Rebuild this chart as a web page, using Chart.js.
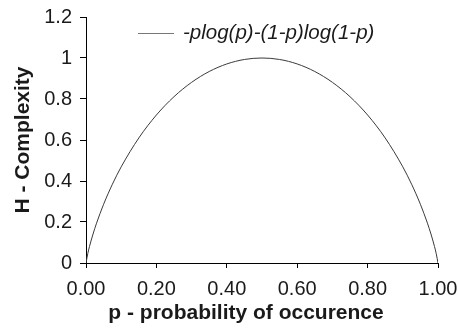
<!DOCTYPE html>
<html>
<head>
<meta charset="utf-8">
<script src="https://cdn.jsdelivr.net/npm/chart.js@4"></script>
<style>
html,body{margin:0;padding:0;background:#fff;}
#wrap{width:458px;height:328px;position:relative;}
</style>
</head>
<body>
<div id="wrap"><canvas id="c" width="458" height="328"></canvas></div>
<script>
const seriesLabel = "-plog(p)-(1-p)log(1-p)";
const xTitle = "p - probability of occurence";
const yTitle = "H - Complexity";
const pValues = [0, 0.005, 0.01, 0.02, 0.03, 0.05, 0.075, 0.10, 0.15, 0.20, 0.25, 0.30, 0.35, 0.40, 0.45, 0.50,
                 0.55, 0.60, 0.65, 0.70, 0.75, 0.80, 0.85, 0.90, 0.925, 0.95, 0.97, 0.98, 0.99, 0.995, 1.0];
const hValues = [0, 0.0454, 0.0808, 0.1414, 0.1944, 0.2864, 0.3843, 0.4690, 0.6098, 0.7219, 0.8113, 0.8813, 0.9341, 0.9710, 0.9928, 1.0,
                 0.9928, 0.9710, 0.9341, 0.8813, 0.8113, 0.7219, 0.6098, 0.4690, 0.3843, 0.2864, 0.1944, 0.1414, 0.0808, 0.0454, 0];
const xTicks = [0, 0.2, 0.4, 0.6, 0.8, 1.0];
const yTicks = [0, 0.2, 0.4, 0.6, 0.8, 1.0, 1.2];

const FONT = "'Liberation Sans', Arial, Helvetica, sans-serif";
const TXT = '#1a1a1a';

const points = pValues.map((p, i) => ({x: p, y: hValues[i]}));

const decorPlugin = {
  id: 'decor',
  afterDraw(chart) {
    const ctx = chart.ctx;
    const ca = chart.chartArea;
    ctx.save();
    // legend
    ctx.strokeStyle = '#777';
    ctx.lineWidth = 1;
    ctx.beginPath();
    ctx.moveTo(138, 33.5);
    ctx.lineTo(174, 33.5);
    ctx.stroke();
    ctx.fillStyle = TXT;
    ctx.font = 'italic 20.5px ' + FONT;
    ctx.textAlign = 'left';
    ctx.textBaseline = 'middle';
    ctx.fillText(chart.data.datasets[0].label, 183, 33);
    // x title
    ctx.font = 'bold 21px ' + FONT;
    ctx.textAlign = 'center';
    ctx.textBaseline = 'alphabetic';
    ctx.fillText(xTitle, 246, 319);
    // y title
    ctx.translate(29, (ca.top + ca.bottom) / 2);
    ctx.rotate(-Math.PI / 2);
    ctx.textBaseline = 'alphabetic';
    ctx.fillText(yTitle, 0, 0);
    ctx.restore();
  }
};

new Chart(document.getElementById('c'), {
  type: 'scatter',
  data: {
    datasets: [{
      label: seriesLabel,
      data: points,
      showLine: true,
      borderColor: '#3a3a3a',
      borderWidth: 1,
      pointRadius: 0,
      cubicInterpolationMode: 'monotone',
      fill: false
    }]
  },
  options: {
    responsive: false,
    animation: false,
    devicePixelRatio: 1,
    layout: { padding: { top: 17, right: 20, left: 0, bottom: 0 } },
    plugins: { legend: { display: false }, tooltip: { enabled: false } },
    scales: {
      x: {
        type: 'linear',
        min: 0, max: 1,
        afterBuildTicks(scale) { scale.ticks = xTicks.map(v => ({value: v})); },
        afterFit(scale) { scale.height = 65; scale.paddingLeft = 0; scale.paddingRight = 0; },
        grid: { display: true, drawOnChartArea: false, drawTicks: true, tickLength: 5, color: '#000', lineWidth: 1 },
        border: { display: true, color: '#000', width: 1 },
        ticks: {
          color: TXT, padding: 9, maxRotation: 0,
          font: { family: FONT, size: 20 },
          callback: v => Number(v).toFixed(2)
        }
      },
      y: {
        type: 'linear',
        min: 0, max: 1.2,
        afterBuildTicks(scale) { scale.ticks = yTicks.map(v => ({value: v})); },
        afterFit(scale) { scale.width = 86; scale.paddingTop = 0; scale.paddingBottom = 0; },
        grid: { display: true, drawOnChartArea: false, drawTicks: true, tickLength: 6, color: '#000', lineWidth: 1 },
        border: { display: true, color: '#000', width: 1 },
        ticks: {
          color: TXT, padding: 8,
          font: { family: FONT, size: 20 },
          callback: v => String(Math.round(v * 10) / 10)
        }
      }
    }
  },
  plugins: [decorPlugin]
});
</script>
</body>
</html>
